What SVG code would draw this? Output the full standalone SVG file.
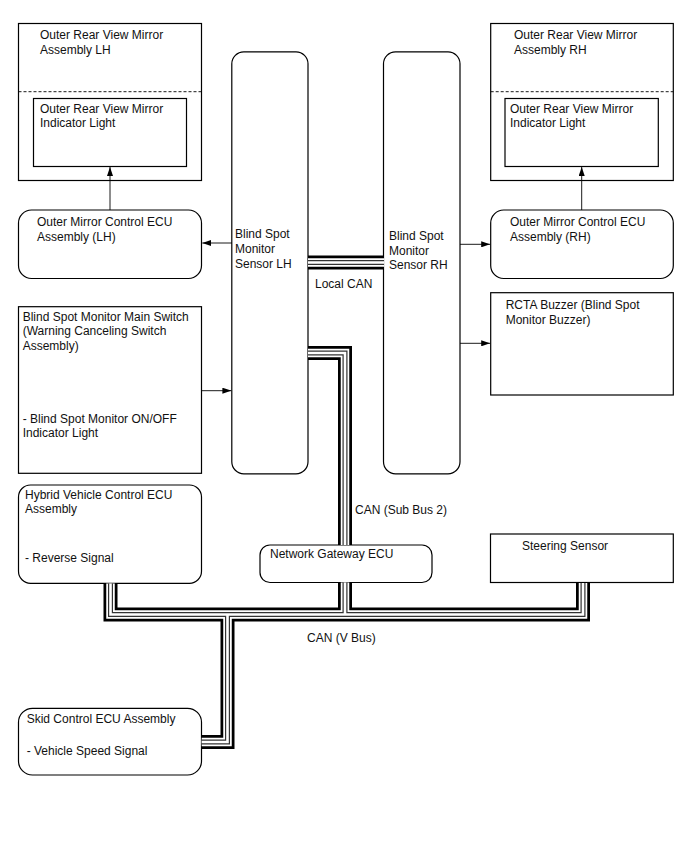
<svg xmlns="http://www.w3.org/2000/svg" xmlns:xlink="http://www.w3.org/1999/xlink" width="688" height="852" viewBox="0 0 688 852">
<style>
text{font-family:"Liberation Sans",Arial,sans-serif;font-size:12px;fill:#111}
.box{fill:#fff;stroke:#000;stroke-width:1.2}
.dash{stroke:#000;stroke-width:0.9;stroke-dasharray:3 2;fill:none}
.arr{stroke:#000;stroke-width:0.9;fill:none;marker-end:url(#ah)}
.b1{stroke:#000;stroke-width:14;fill:none;stroke-linejoin:miter}
.b2{stroke:#fff;stroke-width:8.5;fill:none;stroke-linejoin:miter}
.b3{stroke:#333;stroke-width:5;fill:none;stroke-linejoin:miter}
.b4{stroke:#fff;stroke-width:2.6;fill:none;stroke-linejoin:miter}
</style>
<defs>
<marker id="ah" markerWidth="9" markerHeight="6" refX="9" refY="3" orient="auto" markerUnits="userSpaceOnUse">
<path d="M0,0 L9,3 L0,6 z" fill="#000"/>
</marker>
<path id="bus" d="M308 262.5 H384 M308 353 H345 V545 M110.5 583.5 V614.5 H583 V583 M345 582.5 V614.5 M227.5 614.5 V742 H201.7"/>
</defs>
<rect width="688" height="852" fill="#fff"/>

<g id="mirror-lh">
<rect class="box" x="18.5" y="23.5" width="183" height="157"/>
<line class="dash" x1="18.5" y1="91.7" x2="201.5" y2="91.7"/>
<text x="40" y="39">Outer Rear View Mirror</text>
<text x="40" y="54">Assembly LH</text>
</g>
<g id="indicator-lh">
<rect class="box" x="33.5" y="98.5" width="153" height="68"/>
<text x="40" y="112.5">Outer Rear View Mirror</text>
<text x="40" y="127">Indicator Light</text>
</g>

<g id="ecu-lh">
<rect class="box" x="18.5" y="210" width="183" height="68.5" rx="13"/>
<text x="37" y="226">Outer Mirror Control ECU</text>
<text x="37" y="240.5">Assembly (LH)</text>
</g>

<g id="sensor-lh">
<rect class="box" x="231.8" y="51.8" width="76.2" height="422" rx="12"/>
<text x="235" y="238">Blind Spot</text>
<text x="235" y="253">Monitor</text>
<text x="235" y="268">Sensor LH</text>
</g>

<g id="sensor-rh">
<rect class="box" x="383.5" y="51.8" width="76.5" height="422" rx="12"/>
<text x="389" y="240">Blind Spot</text>
<text x="389" y="254.5">Monitor</text>
<text x="389" y="269">Sensor RH</text>
</g>

<g id="mirror-rh">
<rect class="box" x="490.7" y="23.5" width="182.6" height="157"/>
<line class="dash" x1="490.7" y1="91.7" x2="673.3" y2="91.7"/>
<text x="514" y="39">Outer Rear View Mirror</text>
<text x="514" y="54">Assembly RH</text>
</g>
<g id="indicator-rh">
<rect class="box" x="505" y="98.5" width="153.3" height="68"/>
<text x="510" y="112.5">Outer Rear View Mirror</text>
<text x="510" y="127">Indicator Light</text>
</g>

<g id="ecu-rh">
<rect class="box" x="490.7" y="210" width="182.6" height="68.5" rx="13"/>
<text x="510" y="226">Outer Mirror Control ECU</text>
<text x="510" y="240.5">Assembly (RH)</text>
</g>

<g id="buzzer">
<rect class="box" x="490.7" y="292.7" width="182.6" height="102.3"/>
<text x="505.7" y="309">RCTA Buzzer (Blind Spot</text>
<text x="505.7" y="323.5">Monitor Buzzer)</text>
</g>

<g id="main-switch">
<rect class="box" x="18.5" y="306.7" width="183" height="166.6"/>
<text x="22.7" y="320.5">Blind Spot Monitor Main Switch</text>
<text x="22.7" y="335">(Warning Canceling Switch</text>
<text x="22.7" y="349.5">Assembly)</text>
<text x="22.7" y="422.5">- Blind Spot Monitor ON/OFF</text>
<text x="22.7" y="437">Indicator Light</text>
</g>

<g id="hybrid-ecu">
<rect class="box" x="18.5" y="485" width="183" height="98.3" rx="12"/>
<text x="25" y="499">Hybrid Vehicle Control ECU</text>
<text x="25" y="513">Assembly</text>
<text x="25" y="561.5">- Reverse Signal</text>
</g>

<g id="gateway">
<rect class="box" x="260" y="545" width="172" height="37.5" rx="10"/>
<text x="270" y="557.5">Network Gateway ECU</text>
</g>

<g id="steering">
<rect class="box" x="490.5" y="534" width="182.8" height="48.5"/>
<text x="522" y="550">Steering Sensor</text>
</g>

<g id="skid-ecu">
<rect class="box" x="18.5" y="708.3" width="183" height="66.7" rx="14"/>
<text x="26.7" y="722.5">Skid Control ECU Assembly</text>
<text x="26.7" y="755">- Vehicle Speed Signal</text>
</g>

<g id="connectors">
<use xlink:href="#bus" class="b1"/>
<use xlink:href="#bus" class="b2"/>
<use xlink:href="#bus" class="b3"/>
<use xlink:href="#bus" class="b4"/>
<path class="arr" d="M110 210 V167"/>
<path class="arr" d="M581.7 210 V167"/>
<path class="arr" d="M232 243 H202.3"/>
<path class="arr" d="M202 390.7 H231.4"/>
<path class="arr" d="M460 244.3 H490.2"/>
<path class="arr" d="M460 343.3 H490.2"/>
</g>

<g id="labels">
<text x="315" y="288">Local CAN</text>
<text x="355" y="514">CAN (Sub Bus 2)</text>
<text x="307" y="642">CAN (V Bus)</text>
</g>
</svg>
